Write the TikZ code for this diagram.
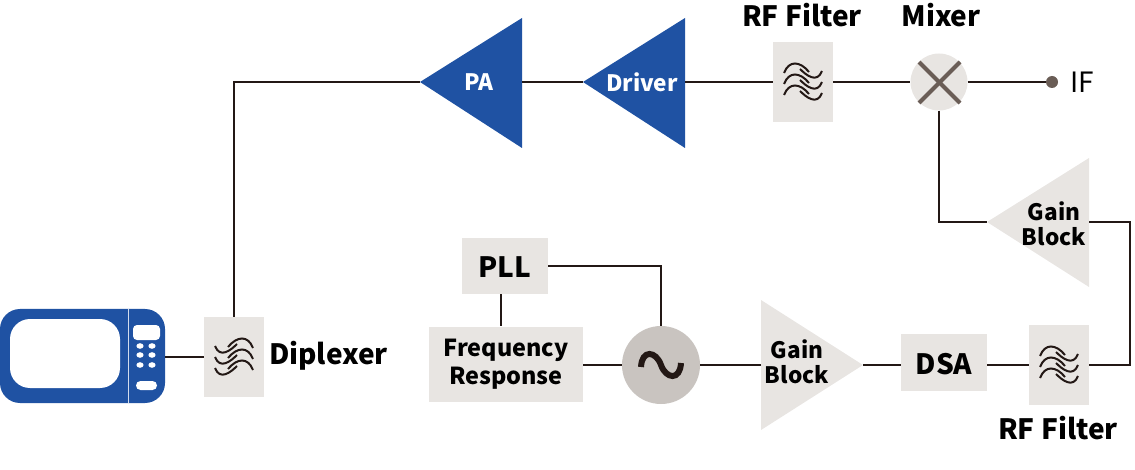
\documentclass[tikz,border=0pt]{standalone}
\usepackage{fontspec}
\usepackage{xcolor}
\setmainfont{Noto Sans CJK JP}
\usetikzlibrary{positioning}

\definecolor{boxgray}{HTML}{E8E5E2}
\definecolor{oscgray}{HTML}{C9C4C0}
\definecolor{ampblue}{HTML}{1F52A3}
\definecolor{linedark}{HTML}{231815}
\definecolor{dotbrown}{HTML}{6A5D56}

\tikzset{
  conn/.style={draw=linedark,line width=1.9pt},
  blockbox/.style={fill=boxgray,inner sep=0pt,align=center,font=\bfseries\fontsize{23.4}{28}\selectfont},
  shortbox/.style={blockbox,minimum width=86pt,text height=24pt,text depth=0pt,font=\bfseries\fontsize{28}{32}\selectfont},
  filterbox/.style={fill=boxgray,inner sep=0pt,minimum width=60pt,minimum height=80pt},
  caption/.style={inner sep=0pt,font=\bfseries\fontsize{28}{32}\selectfont},
  amptext/.style={inner sep=0pt,align=center,font=\bfseries\fontsize{22.6}{25}\selectfont},
  filterwaves/.pic={
    \foreach \y in {-11,0,11}
      {
        \draw[linedark,line width=2pt] (-19,\y+4) .. controls (-14,\y-9) and (-3,\y-8) .. (6,\y+3);
        \draw[linedark,line width=2pt] (-3,\y) .. controls (3,\y+6) and (14,\y+15) .. (19,\y+2);
      }
  }
}

\begin{document}
\begin{tikzpicture}[x=1pt,y=-1pt]
  \useasboundingbox (0,0) rectangle (1135,470);

  % microwave
  \fill[ampblue,rounded corners=20pt] (0,309) rectangle (165,403);
  \fill[white,rounded corners=20pt] (10,319) rectangle (120,388);
  \fill[white!80!ampblue] (128,309) rectangle (129,403);
  \fill[white,rounded corners=4pt] (133,325) rectangle (160,340);
  \foreach \x in {140,152}
    \foreach \y in {346,355,365}
      \fill[white] (\x,\y) ellipse (3.6pt and 2.8pt);
  \fill[white,rounded corners=4.5pt] (136,381) rectangle (157,390);
  \coordinate (oven) at (165,357);

  % filter blocks
  \node[filterbox] (diplexer) at (234,357) {};
  \pic[xscale=-1] at (234,355) {filterwaves};
  \node[filterbox] (rftop) at (803,82) {};
  \pic at (803,80) {filterwaves};
  \node[filterbox] (rfbottom) at (1059,365) {};
  \pic at (1059,363) {filterwaves};

  % amplifiers
  \fill[ampblue] (420,82) -- (522,18) -- (522,148) -- cycle;
  \coordinate (patip) at (420,82);
  \coordinate (paback) at (522,82);
  \node[amptext,white] (pa) at (479,82) {PA};
  \fill[ampblue] (583,82) -- (685,18) -- (685,148) -- cycle;
  \coordinate (drivertip) at (583,82);
  \coordinate (driverback) at (685,82);
  \node[amptext,white] (driver) at (642,82) {Driver};
  \fill[boxgray] (987,222) -- (1089,158) -- (1089,287) -- cycle;
  \coordinate (gaintoptip) at (987,222);
  \coordinate (gaintopback) at (1089,222);
  \node[amptext] (gaintop) at (1054,224) {Gain\\Block};
  \fill[boxgray] (863,365) -- (761,300) -- (761,430) -- cycle;
  \coordinate (gainbottip) at (863,365);
  \coordinate (gainbotback) at (761,365);
  \node[amptext] (gainbot) at (797,362) {Gain\\Block};

  % mixer and oscillator
  \node[circle,fill=boxgray,inner sep=0pt,minimum size=57pt] (mixer) at (939,82) {};
  \draw[dotbrown,line width=4pt] (919,62) -- (960,103);
  \draw[dotbrown,line width=4pt] (919,103) -- (960,62);
  \node[circle,fill=dotbrown,inner sep=0pt,minimum size=12pt] (ifdot) at (1052,82) {};
  \node[inner sep=0pt,font=\fontsize{28}{32}\selectfont,right=12pt of ifdot] (iflabel) {IF};
  \node[circle,fill=oscgray,inner sep=0pt,minimum size=78pt] (osc) at (661,365) {};
  \draw[linedark,line width=6pt] (641,367) .. controls (642,349) and (656,351) .. (661,365) .. controls (666,379) and (680,381) .. (681,363);

  % boxes
  \node[shortbox,minimum height=56pt] (pll) at (505,266) {PLL};
  \node[blockbox,minimum width=154pt,minimum height=75pt] (freq) at (506,364) {Frequency\\Response};
  \node[shortbox,minimum height=57pt] (dsa) at (944,362) {DSA};

  % captions
  \node[caption] (diplabel) at (328.5,356) {Diplexer};
  \node[caption] (rftoplabel) at (802,15) {RF Filter};
  \node[caption] (mixlabel) at (941,15) {Mixer};
  \node[caption] (rfbotlabel) at (1058,428) {RF Filter};

  % connectors
  \draw[conn] (oven) -- (diplexer.west |- oven);
  \draw[conn] (diplexer.north) -- (patip -| diplexer.north) -- (patip);
  \draw[conn] (paback) -- (drivertip);
  \draw[conn] (driverback) -- (rftop.west);
  \draw[conn] (rftop.east) -- (mixer.west);
  \draw[conn] (mixer.east) -- (ifdot.west);
  \draw[conn] (mixer.south) -- (gaintoptip -| mixer.south) -- (gaintoptip);
  \draw[conn] (gaintopback) -- (1130,222) -- (1130,365) -- (rfbottom.east);
  \draw[conn] (rfbottom.west) -- (dsa.east |- rfbottom.west);
  \draw[conn] (dsa.west |- gainbottip) -- (gainbottip);
  \draw[conn] (gainbotback) -- (osc.east);
  \draw[conn] (osc.west) -- (freq.east |- osc.west);
  \draw[conn] (pll.south -| 501,0) -- (freq.north -| 501,0);
  \draw[conn] (pll.east) -- (osc.north |- pll.east) -- (osc.north);
\end{tikzpicture}
\end{document}
